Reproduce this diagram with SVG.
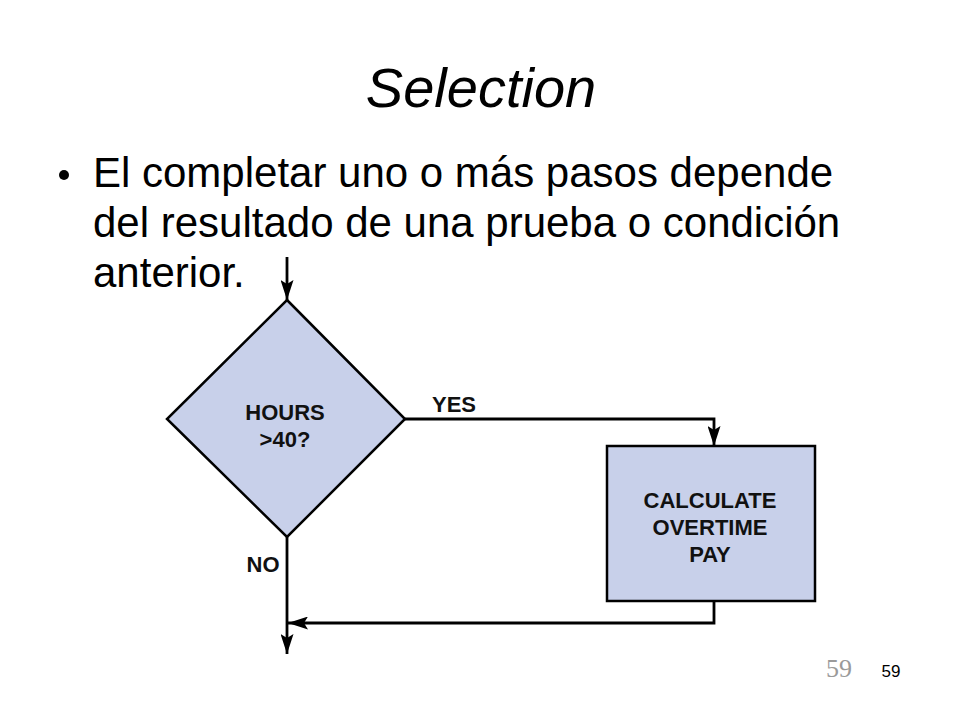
<svg xmlns="http://www.w3.org/2000/svg" width="960" height="720" viewBox="0 0 960 720">
<style>
.title{font-family:"Liberation Sans",Arial,sans-serif;font-style:italic;font-size:56px;fill:#000}
.body{font-family:"Liberation Sans",Arial,sans-serif;font-size:42px;fill:#000}
.lbl{font-family:"Liberation Sans",Arial,sans-serif;font-weight:bold;font-size:22px;fill:#111;text-anchor:middle}
.shape{fill:#c8d0ea;stroke:#000;stroke-width:2.5}
.wire{fill:none;stroke:#000;stroke-width:2.8}
</style>
<defs>
<marker id="ah" viewBox="0 0 20 13" refX="20" refY="6.5" markerWidth="20" markerHeight="13" markerUnits="userSpaceOnUse" orient="auto">
<path d="M0,0 L20,6.5 L0,13 L4,6.5 Z" fill="#000"/>
</marker>
</defs>
<rect width="960" height="720" fill="#fff"/>
<text class="title" x="481" y="107" text-anchor="middle">Selection</text>
<circle cx="64" cy="175" r="5" fill="#000"/>
<text class="body" x="93" y="187">El completar uno o más pasos depende</text>
<text class="body" x="93" y="237">del resultado de una prueba o condición</text>
<text class="body" x="93" y="287">anterior.</text>
<g id="decision">
<polygon class="shape" points="287,300 405,419 287,537 167,419"/>
<text class="lbl" x="285" y="420">HOURS</text>
<text class="lbl" x="285" y="447">&gt;40?</text>
</g>
<g id="calc">
<rect class="shape" x="607" y="446" width="208" height="155"/>
<text class="lbl" x="710" y="508">CALCULATE</text>
<text class="lbl" x="710" y="535">OVERTIME</text>
<text class="lbl" x="710" y="562">PAY</text>
</g>
<g id="connectors">
<path class="wire" d="M287,257 L287,300" marker-end="url(#ah)"/>
<path class="wire" d="M405,419 L714,419 L714,446" marker-end="url(#ah)"/>
<path class="wire" d="M287,537 L287,654" marker-end="url(#ah)"/>
<path class="wire" d="M714,601 L714,623 L288,623" marker-end="url(#ah)"/>
</g>
<text class="lbl" x="454" y="412">YES</text>
<text class="lbl" x="263" y="572">NO</text>
<text x="839" y="677" text-anchor="middle" font-family="'Liberation Serif','Times New Roman',serif" font-size="26" fill="#9a9a9a">59</text>
<text x="891" y="677" text-anchor="middle" font-family="'Liberation Sans',Arial,sans-serif" font-size="17" fill="#000">59</text>
</svg>
